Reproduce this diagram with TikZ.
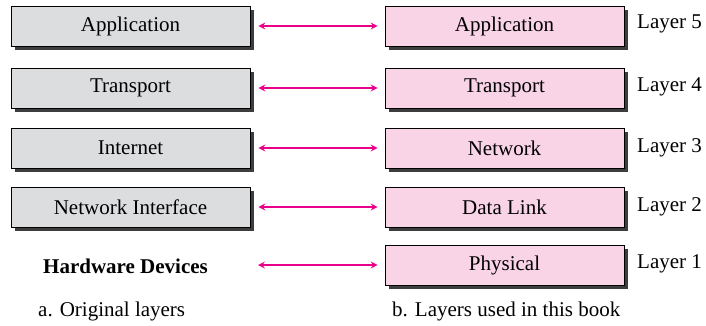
\documentclass[tikz,border=0pt]{standalone}
\usepackage{fontspec}
\setmainfont{Liberation Serif}
\begin{document}
\begin{tikzpicture}[x=1pt,y=-1pt]
\useasboundingbox (0,0) rectangle (706,325);
\fill[black!76] (15,10) rectangle (254,50);
\fill[black!76] (15,72) rectangle (254,112);
\fill[black!76] (15,132) rectangle (254,172);
\fill[black!76] (15,191) rectangle (254,231);
\fill[black!76] (389,10) rectangle (628,50);
\fill[black!76] (389,72) rectangle (628,112);
\fill[black!76] (389,132) rectangle (628,172);
\fill[black!76] (389,191) rectangle (628,231);
\fill[black!76] (389,249) rectangle (628,289);
\node[draw, line width=0.9pt, fill={rgb,255:red,220;green,221;blue,223}, minimum width=239pt, minimum height=40pt, font=\fontsize{21}{24}\selectfont] (la) at (130.5,26) {Application};
\node[draw, line width=0.9pt, fill={rgb,255:red,220;green,221;blue,223}, minimum width=239pt, minimum height=40pt, font=\fontsize{21}{24}\selectfont] (lb) at (130.5,88) {Transport};
\node[draw, line width=0.9pt, fill={rgb,255:red,220;green,221;blue,223}, minimum width=239pt, minimum height=40pt, font=\fontsize{21}{24}\selectfont] (lc) at (130.5,148) {Internet};
\node[draw, line width=0.9pt, fill={rgb,255:red,220;green,221;blue,223}, minimum width=239pt, minimum height=40pt, font=\fontsize{21}{24}\selectfont] (ld) at (130.5,207) {Network Interface};
\node[font=\fontsize{21}{24}\selectfont\bfseries] (le) at (125.5,266) {Hardware Devices};
\node[draw, line width=0.9pt, fill={rgb,255:red,249;green,211;blue,230}, minimum width=239pt, minimum height=40pt, font=\fontsize{21}{24}\selectfont] (ra) at (504.5,26) {Application};
\node[draw, line width=0.9pt, fill={rgb,255:red,249;green,211;blue,230}, minimum width=239pt, minimum height=40pt, font=\fontsize{21}{24}\selectfont] (rb) at (504.5,88) {Transport};
\node[draw, line width=0.9pt, fill={rgb,255:red,249;green,211;blue,230}, minimum width=239pt, minimum height=40pt, font=\fontsize{21}{24}\selectfont] (rc) at (504.5,148) {Network};
\node[draw, line width=0.9pt, fill={rgb,255:red,249;green,211;blue,230}, minimum width=239pt, minimum height=40pt, font=\fontsize{21}{24}\selectfont] (rd) at (504.5,207) {Data Link};
\node[draw, line width=0.9pt, fill={rgb,255:red,249;green,211;blue,230}, minimum width=239pt, minimum height=40pt, font=\fontsize{21}{24}\selectfont] (re) at (504.5,265) {Physical};
\draw[draw={rgb,255:red,232;green,0;blue,138}, line width=2pt, >=stealth, <->, shorten <=8pt, shorten >=7pt] (la.east) -- (ra.west);
\draw[draw={rgb,255:red,232;green,0;blue,138}, line width=2pt, >=stealth, <->, shorten <=8pt, shorten >=7pt] (lb.east) -- (rb.west);
\draw[draw={rgb,255:red,232;green,0;blue,138}, line width=2pt, >=stealth, <->, shorten <=8pt, shorten >=7pt] (lc.east) -- (rc.west);
\draw[draw={rgb,255:red,232;green,0;blue,138}, line width=2pt, >=stealth, <->, shorten <=8pt, shorten >=7pt] (ld.east) -- (rd.west);
\draw[draw={rgb,255:red,232;green,0;blue,138}, line width=2pt, >=stealth, <->, shorten >=7pt] (258,265) -- (re.west);
\node[font=\fontsize{21}{24}\selectfont, anchor=west, inner sep=0pt] (l5) at (637,24) {Layer 5};
\node[font=\fontsize{21}{24}\selectfont, anchor=west, inner sep=0pt] (l4) at (637,87) {Layer 4};
\node[font=\fontsize{21}{24}\selectfont, anchor=west, inner sep=0pt] (l3) at (637,148) {Layer 3};
\node[font=\fontsize{21}{24}\selectfont, anchor=west, inner sep=0pt] (l2) at (637,207) {Layer 2};
\node[font=\fontsize{21}{24}\selectfont, anchor=west, inner sep=0pt] (l1) at (637,264) {Layer 1};
\node[font=\fontsize{21}{24}\selectfont, anchor=west, inner sep=0pt] (ca) at (38,311) {a. Original layers};
\node[font=\fontsize{21}{24}\selectfont, anchor=west, inner sep=0pt] (cb) at (392,311) {b. Layers used in this book};
\end{tikzpicture}
\end{document}
